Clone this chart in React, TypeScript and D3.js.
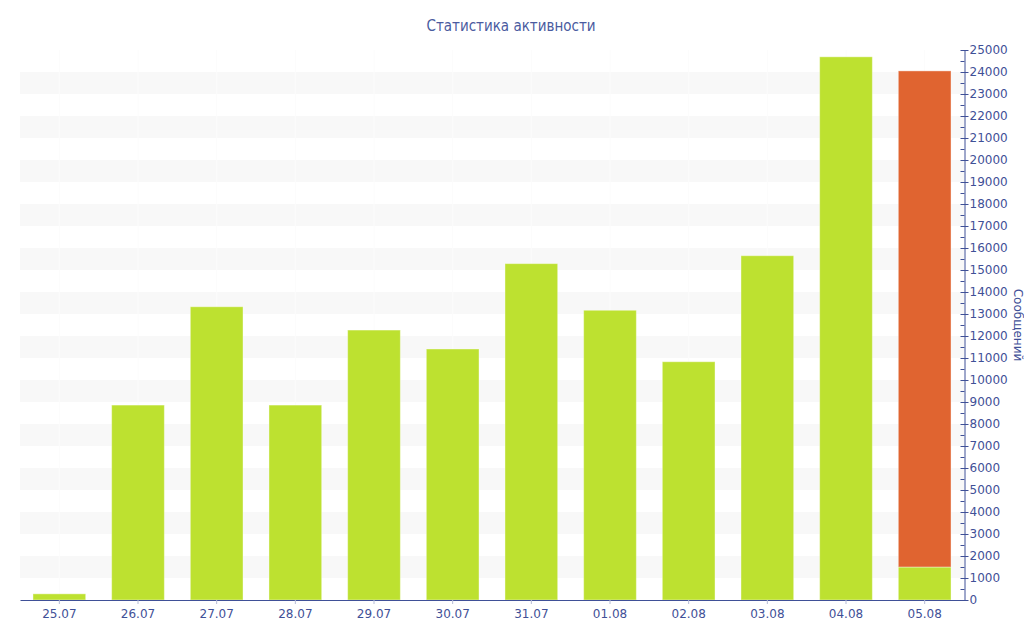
import { useEffect, useRef } from "react"
import * as d3 from "d3"

const days = ["25.07", "26.07", "27.07", "28.07", "29.07", "30.07", "31.07", "01.08", "02.08", "03.08", "04.08", "05.08"]
const greenValues = [280, 8860, 13330, 8860, 12270, 11410, 15290, 13170, 10830, 15650, 24690, 1500]
const orangeValues = [0, 0, 0, 0, 0, 0, 0, 0, 0, 0, 0, 22550]
const yTicks = d3.range(0, 25001, 1000)

const App = () => {
  const svgRef = useRef<SVGSVGElement>(null)

  useEffect(() => {
    const svg = d3.select(svgRef.current)
    svg.selectAll("*").remove()

    const width = 1024
    const height = 640
    const margin = { top: 50, right: 60, bottom: 40, left: 20 }
    const innerWidth = width - margin.left - margin.right
    const innerHeight = height - margin.top - margin.bottom
    const axisColor = "#3f5097"
    const font = "DejaVu Sans, Verdana, sans-serif"

    const g = svg.append("g").attr("transform", `translate(${margin.left},${margin.top})`)

    const x = d3.scaleBand().domain(days).range([0, innerWidth]).paddingInner(0.33).paddingOuter(0.165)
    const y = d3.scaleLinear().domain([0, 25000]).range([innerHeight, 0])

    // alternating stripes
    g.selectAll(".stripe")
      .data(yTicks.filter((t) => t % 2000 === 1000 && t < 25000))
      .enter()
      .append("rect")
      .attr("x", 0)
      .attr("y", (d) => y(d + 1000))
      .attr("width", innerWidth)
      .attr("height", (d) => y(d) - y(d + 1000))
      .attr("fill", "#f8f8f8")

    // faint vertical grid
    g.selectAll(".vgrid")
      .data(days)
      .enter()
      .append("line")
      .attr("x1", (d) => (x(d) ?? 0) + x.bandwidth() / 2)
      .attr("x2", (d) => (x(d) ?? 0) + x.bandwidth() / 2)
      .attr("y1", 0)
      .attr("y2", innerHeight)
      .attr("stroke", "#fcfcfc")

    const stack = d3.stack<number>().keys(["green", "orange"]).value((i, key) => (key === "green" ? greenValues[i] : orangeValues[i]))
    const series = stack(d3.range(days.length))
    const colors = ["#bde130", "#e06430"]

    series.forEach((s, si) => {
      g.append("g")
        .selectAll("rect")
        .data(s.filter((d) => d[1] - d[0] > 0))
        .enter()
        .append("rect")
        .attr("x", (d) => x(days[d.data]) ?? 0)
        .attr("y", (d) => y(d[1]))
        .attr("width", x.bandwidth())
        .attr("height", (d) => y(d[0]) - y(d[1]))
        .attr("fill", colors[si])
        .attr("stroke", "rgba(255,255,255,0.4)")
        .attr("stroke-width", 1)
    })

    // bottom axis
    const xAxis = g
      .append("g")
      .attr("transform", `translate(0,${innerHeight})`)
      .call(d3.axisBottom(x).tickSize(4).tickSizeOuter(0))
    xAxis.select(".domain").attr("stroke", axisColor)
    xAxis.selectAll(".tick line").attr("stroke", "#b5bbd6")
    xAxis
      .selectAll(".tick text")
      .attr("fill", axisColor)
      .attr("font-size", 12)
      .attr("font-family", font)
      .attr("dy", "0.95em")

    // right axis
    const yAxis = g
      .append("g")
      .attr("transform", `translate(${innerWidth + 0.5},0)`)
      .call(d3.axisRight(y).tickValues(yTicks).tickFormat(d3.format("d")).tickSize(4).tickSizeOuter(0).tickPadding(1))
    yAxis.select(".domain").attr("stroke", axisColor)
    yAxis.selectAll(".tick line").attr("stroke", axisColor).attr("x1", -4)
    yAxis
      .selectAll(".tick text")
      .attr("fill", axisColor)
      .attr("font-size", 12)
      .attr("font-family", font)

    yAxis
      .selectAll(".minor")
      .data(d3.range(500, 25000, 1000))
      .enter()
      .append("line")
      .attr("x1", -4)
      .attr("x2", 0)
      .attr("y1", (d) => y(d) + 0.5)
      .attr("y2", (d) => y(d) + 0.5)
      .attr("stroke", axisColor)

    svg
      .append("text")
      .attr("transform", `translate(1014,${margin.top + innerHeight / 2}) rotate(90)`)
      .attr("text-anchor", "middle")
      .attr("fill", axisColor)
      .attr("font-size", 12)
      .attr("font-family", font)
      .text("Сообщений")

    svg
      .append("text")
      .attr("x", 511)
      .attr("y", 31)
      .attr("text-anchor", "middle")
      .attr("fill", "#4a5ba0")
      .attr("font-size", 15)
      .attr("font-family", "DejaVu Sans Condensed, DejaVu Sans, sans-serif")
      .text("Статистика активности")
  }, [])

  return <svg ref={svgRef} width={1024} height={640} style={{ position: "absolute", left: 0, top: 0 }}></svg>
}

export default App
